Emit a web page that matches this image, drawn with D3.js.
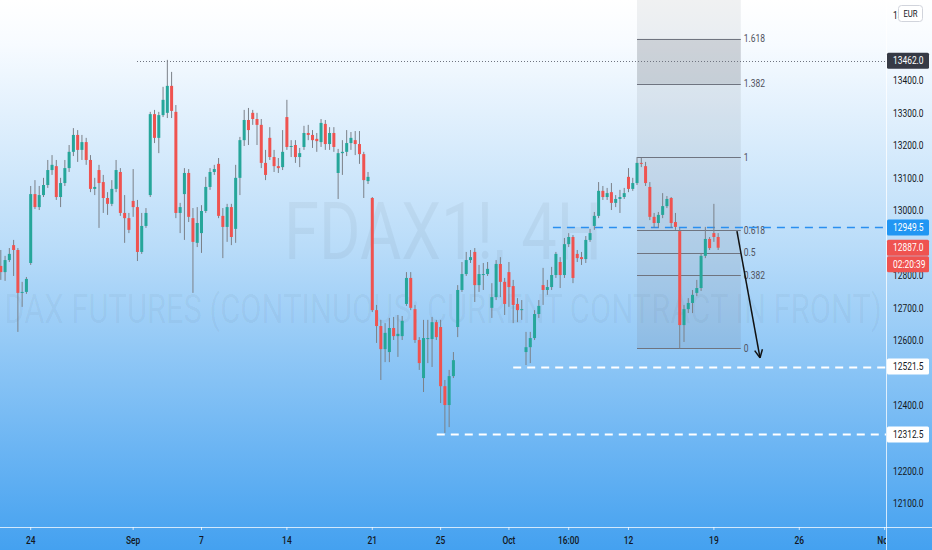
<!DOCTYPE html>
<html><head><meta charset="utf-8">
<script src="https://cdn.jsdelivr.net/npm/d3@7"></script>
<style>html,body{margin:0;padding:0;overflow:hidden;background:#fff}</style>
</head><body><svg id="c" width="932" height="550"></svg>
<script>
// ---------- DATA ----------
const opens = [12831,12812,12849,12895,12880,12748,12751,12840,13052,13012,
13049,13080,13126,13138,13043,13086,13132,13182,13234,13188,
13212,13157,13068,13126,13089,13040,13022,13068,13120,12994,
12978,13031,13012,12874,12954,13049,13298,13225,13295,13302,
13385,13305,12994,13052,13117,12978,12902,12932,13000,13074,
13120,13145,12985,12951,13012,12945,13102,13218,13280,13302,
13283,13265,13148,13225,13166,13138,13135,13289,13197,13203,
13166,13197,13240,13234,13222,13212,13268,13206,13240,13117,
13178,13182,13209,13218,13206,13175,13092,13040,12695,12646,
12575,12566,12640,12615,12615,12714,12794,12698,12603,12486,
12606,12606,12658,12643,12461,12403,12492,12643,12757,12806,
12849,12874,12772,12803,12806,12702,12735,12837,12782,12812,
12769,12714,12695,12566,12581,12609,12683,12772,12757,12766,
12803,12843,12803,12898,12920,12868,12858,12852,12911,12954,
12985,13062,13043,13058,13025,13037,13043,13105,13068,13086,
13148,13138,13074,12982,12963,12988,13015,13040,12966,12938,
12649,12698,12717,12748,12763,12862,12914,12932,12920];
const highs = [12880,12862,12886,12911,12886,12782,12797,13077,13095,13077,
13102,13157,13172,13157,13102,13157,13203,13255,13249,13234,
13225,13172,13102,13142,13111,13058,13095,13157,13132,13049,
12994,13129,13034,12994,13009,13305,13311,13305,13382,13465,
13428,13326,13025,13132,13129,13009,13012,13018,13105,13132,
13142,13163,13009,13022,13022,13142,13228,13311,13317,13311,
13302,13283,13188,13258,13188,13163,13249,13342,13218,13218,
13194,13262,13265,13249,13240,13283,13280,13258,13258,13191,
13218,13249,13243,13246,13246,13182,13120,13043,12711,12665,
12655,12671,12674,12680,12677,12812,12812,12711,12612,12665,
12665,12674,12665,12665,12480,12511,12566,12772,12843,12874,
12880,12886,12834,12840,12843,12778,12849,12858,12794,12843,
12788,12732,12726,12628,12628,12695,12726,12825,12788,12828,
12874,12858,12917,12932,12926,12880,12874,12923,12945,12997,
13089,13077,13071,13086,13049,13065,13071,13132,13102,13166,
13163,13151,13089,12994,12997,13055,13046,13043,12994,12948,
12711,12732,12757,12788,12871,12951,12920,13022,12932];
const lows = [12788,12785,12843,12800,12628,12705,12745,12834,13006,13003,
13043,13071,13111,13034,13012,13077,13120,13169,13151,13157,
13142,13058,13049,12948,12994,12988,13015,13058,12985,12902,
12932,12982,12846,12868,12948,13043,13209,13178,13289,13286,
13286,12978,12932,12911,12966,12748,12889,12871,12994,13065,
13111,12978,12855,12905,12895,12902,13049,13200,13203,13265,
13203,13132,13095,13157,13120,13117,13126,13188,13166,13148,
13135,13188,13218,13194,13182,13197,13188,13188,13182,13037,
13111,13169,13188,13172,13145,13040,13083,12689,12594,12480,
12535,12535,12603,12551,12603,12708,12695,12594,12511,12443,
12532,12520,12603,12409,12317,12335,12486,12612,12751,12800,
12840,12720,12751,12757,12800,12671,12726,12735,12680,12705,
12655,12658,12665,12526,12532,12603,12671,12711,12742,12757,
12794,12763,12794,12889,12778,12843,12834,12840,12905,12942,
12978,13034,13034,13003,13012,12994,13037,13058,13062,13080,
13135,13077,12972,12948,12948,12978,13009,12948,12942,12577,
12597,12686,12686,12738,12754,12855,12880,12905,12880];
const closes = [12812,12849,12868,12880,12748,12751,12791,13052,13012,13049,
13080,13126,13142,13043,13086,13132,13182,13234,13188,13212,
13157,13068,13074,13086,13040,13022,13068,13126,12994,12978,
12942,13012,12874,12954,12994,13298,13225,13295,13342,13385,
13308,12994,13012,13117,12982,12905,12963,13000,13074,13120,
13129,12985,12951,13012,12920,13102,13218,13280,13249,13283,
13265,13148,13111,13166,13138,13132,13182,13197,13200,13166,
13178,13240,13234,13218,13215,13271,13206,13240,13197,13178,
13182,13209,13225,13206,13175,13095,13105,12695,12646,12575,
12625,12640,12615,12622,12662,12794,12702,12603,12532,12609,
12609,12658,12612,12461,12403,12492,12541,12757,12806,12849,
12858,12772,12806,12806,12822,12735,12837,12782,12714,12766,
12711,12695,12698,12581,12609,12683,12708,12757,12766,12803,
12868,12803,12898,12920,12794,12855,12852,12911,12932,12985,
13062,13043,13055,13025,13037,13043,13055,13068,13086,13148,
13145,13086,12982,12963,12988,13015,13037,12963,12951,12649,
12698,12717,12742,12763,12862,12914,12886,12920,12887];

const timeLabels = ["24","Sep","7","14","21","25","Oct","16:00","12","19","26","Nov"];
const timeLabelBars = [7,31,47,67,87,103,119,133,147,167,187,207];
const priceTicks = [12100,12200,12300,12400,12500,12600,12700,12800,12900,13000,13100,13200,13300,13400,13500,13600];
const fibLevels = [0,0.382,0.5,0.618,1,1.382,1.618];
const fibLabels = ["0","0.382","0.5","0.618","1","1.382","1.618"];
const fibLow = 12577, fibHigh = 13166;
const fibBars = [149, 173.3];
const levelPrices = [13462, 12949.5, 12521.5, 12312.5];
const levelStartBars = [31.9, 129.3, 120, 102.1];
const levelStyles = ["dotted","blue","white","white"];
const lastPrice = 12887.0;
const countdown = "02:20:39";
const arrowBars = [172.4, 177.8];
const arrowPrices = [12938, 12548];
const symbolTitle = "FDAX1!, 4H";
const symbolDesc = "DAX FUTURES (CONTINUOUS: CURRENT CONTRACT IN FRONT)";
const currency = "EUR";

// ---------- CHART ----------
const W = 932, H = 550, plotR = 886, plotB = 527;
const FONT = "Roboto, 'Liberation Sans', sans-serif";
const svg = d3.select("#c");
const defs = svg.append("defs");
const g0 = defs.append("linearGradient").attr("id","bg").attr("x1",0).attr("y1",0).attr("x2",0).attr("y2",1);
[[0,"#ffffff"],[0.08,"#f7fbff"],[0.45,"#b9dcf9"],[1,"#44a1f0"]].forEach(s=>g0.append("stop").attr("offset",s[0]).attr("stop-color",s[1]));
defs.append("clipPath").attr("id","plot").append("rect").attr("width",plotR).attr("height",plotB);
defs.append("clipPath").attr("id","xax").append("rect").attr("x",0).attr("y",plotB).attr("width",plotR).attr("height",H-plotB);
defs.append("clipPath").attr("id","cur").append("rect").attr("x",886).attr("y",0).attr("width",12).attr("height",30);

svg.append("rect").attr("width",W).attr("height",H).attr("fill","url(#bg)");

const x = d3.scaleLinear().domain([0,207]).range([0.8, 0.8+207*4.27]);
const y = d3.scaleLinear().domain([12027.7,13649.2]).range([plotB,0]);

function narrow(sel, f){ sel.each(function(){ const w=this.getComputedTextLength(); d3.select(this).attr("textLength", w*f).attr("lengthAdjust","spacingAndGlyphs"); }); }

// watermark (scaled horizontally by transform to the target width)
function watermark(txt, cx, by, size, targetW){
  const g = svg.append("g");
  const t = g.append("text").attr("x",0).attr("y",0).attr("text-anchor","middle")
    .attr("font-family",FONT).attr("font-size",size).attr("fill","rgba(0,0,0,0.045)").text(txt);
  const w = t.node().getComputedTextLength();
  g.attr("transform",`translate(${cx},${by}) scale(${targetW/w},1)`);
}
watermark(symbolTitle, 443, 259, 80, 318);
watermark(symbolDesc, 443, 323, 40, 878);

const plot = svg.append("g").attr("clip-path","url(#plot)");

// fib region
const fx0 = x(fibBars[0]), fx1 = x(fibBars[1]);
const fy = l => y(fibLow + (fibHigh-fibLow)*l);
plot.append("rect").attr("x",fx0).attr("y",0).attr("width",fx1-fx0).attr("height",fy(1.618)).attr("fill","rgba(110,115,125,0.10)");
plot.append("rect").attr("x",fx0).attr("y",fy(1.618)).attr("width",fx1-fx0).attr("height",fy(1.382)-fy(1.618)).attr("fill","rgba(110,115,125,0.30)");
plot.append("rect").attr("x",fx0).attr("y",fy(1.382)).attr("width",fx1-fx0).attr("height",fy(1)-fy(1.382)).attr("fill","rgba(110,115,125,0.12)");
plot.append("rect").attr("x",fx0).attr("y",fy(1)).attr("width",fx1-fx0).attr("height",fy(0)-fy(1)).attr("fill","rgba(110,115,125,0.14)");
fibLevels.forEach((l,k)=>{
  plot.append("line").attr("x1",fx0).attr("x2",fx1).attr("y1",Math.round(fy(l))+0.5).attr("y2",Math.round(fy(l))+0.5)
    .attr("stroke","#6f7480").attr("stroke-width",1);
  const t = plot.append("text").attr("x",fx1+3).attr("y",fy(l)).attr("dominant-baseline","central")
    .attr("font-family",FONT).attr("font-size",10).attr("fill","#50535e").text(fibLabels[k]);
  narrow(t,0.85);
});

// horizontal level lines
levelPrices.forEach((p,k)=>{
  const yy = Math.round(y(p))+0.5;
  const ln = plot.append("line").attr("x1",x(levelStartBars[k])).attr("x2",plotR).attr("y1",yy).attr("y2",yy);
  if(levelStyles[k]==="dotted") ln.attr("stroke","#6f7480").attr("stroke-width",1).attr("stroke-dasharray","1,2");
  else if(levelStyles[k]==="blue") ln.attr("stroke","#2a8ff0").attr("stroke-width",1.6).attr("stroke-dasharray","8,6");
  else ln.attr("stroke","#ffffff").attr("stroke-width",2).attr("stroke-dasharray","8,6");
});

// candles
const bars = opens.map((o,i)=>({i,o,h:highs[i],l:lows[i],c:closes[i]}));
const up = "#26a69a", dn = "#ef5350";
plot.selectAll("line.wick").data(bars).enter().append("line").attr("class","wick")
  .attr("x1",d=>x(d.i)).attr("x2",d=>x(d.i)).attr("y1",d=>y(d.h)).attr("y2",d=>y(d.l))
  .attr("stroke","#7b8088").attr("stroke-width",1);
plot.selectAll("rect.body").data(bars).enter().append("rect").attr("class","body")
  .attr("x",d=>x(d.i)-1.5).attr("width",3)
  .attr("y",d=>y(Math.max(d.o,d.c)))
  .attr("height",d=>Math.max(1,Math.abs(y(d.o)-y(d.c))))
  .attr("fill",d=>d.c>=d.o?up:dn);

// arrow
const ax0=x(arrowBars[0]), ay0=y(arrowPrices[0]), ax1=x(arrowBars[1]), ay1=y(arrowPrices[1]);
plot.append("line").attr("x1",ax0).attr("y1",ay0).attr("x2",ax1).attr("y2",ay1).attr("stroke","#111").attr("stroke-width",1.5);
const ang = Math.atan2(ay1-ay0, ax1-ax0);
[ang+Math.PI-0.45, ang+Math.PI+0.45].forEach(a=>{
  plot.append("line").attr("x1",ax1).attr("y1",ay1).attr("x2",ax1+9*Math.cos(a)).attr("y2",ay1+9*Math.sin(a)).attr("stroke","#111").attr("stroke-width",1.5);
});

// axes lines
svg.append("line").attr("x1",plotR+0.5).attr("x2",plotR+0.5).attr("y1",0).attr("y2",H).attr("stroke","rgba(255,255,255,0.75)");
svg.append("line").attr("x1",0).attr("x2",W).attr("y1",plotB+0.5).attr("y2",plotB+0.5).attr("stroke","rgba(255,255,255,0.75)");

// price labels on axis (ticks hidden under a marker box are skipped)
const boxPrices = [13462,12949.5,12521.5,12312.5,lastPrice];
const yAxisG = svg.append("g");
priceTicks.forEach(p=>{
  if (boxPrices.some(b=>Math.abs(y(b)-y(p))<13)) return;
  const t = yAxisG.append("text").attr("x",893).attr("y",y(p)).attr("dominant-baseline","central")
    .attr("font-family",FONT).attr("font-size",10.5).attr("fill","#131722").text(d3.format(".1f")(p));
  if (p===13600) t.attr("clip-path","url(#cur)");
  narrow(t,0.8);
});
// time axis
const xAxisG = svg.append("g").attr("clip-path","url(#xax)");
timeLabels.forEach((s,k)=>{
  const xx = x(timeLabelBars[k]);
  xAxisG.append("line").attr("x1",xx).attr("x2",xx).attr("y1",plotB).attr("y2",plotB+3).attr("stroke","rgba(255,255,255,0.75)");
  const t = xAxisG.append("text").attr("x",xx).attr("y",540).attr("text-anchor","middle").attr("dominant-baseline","central")
    .attr("font-family",FONT).attr("font-size",10.5).attr("font-weight",500).attr("fill","#131722").text(s);
  narrow(t,0.8);
});

// price marker boxes
function priceBox(yy, txt, bg, fg){
  svg.append("rect").attr("x",887).attr("y",yy-8).attr("width",42).attr("height",16).attr("rx",1.5).attr("fill",bg);
  const t = svg.append("text").attr("x",893).attr("y",yy).attr("dominant-baseline","central")
    .attr("font-family",FONT).attr("font-size",10.5).attr("fill",fg).text(txt);
  narrow(t,0.8);
}
priceBox(y(13462),"13462.0","#363a45","#ffffff");
priceBox(y(12949.5),"12949.5","#2196f3","#ffffff");
priceBox(y(12521.5),"12521.5","#ffffff","#131722");
priceBox(y(12312.5),"12312.5","#ffffff","#131722");
priceBox(y(lastPrice),"12887.0","#ef5350","#ffffff");
priceBox(y(lastPrice)+16.5,countdown,"#ef5350","#ffffff");
// currency box
svg.append("rect").attr("x",898.5).attr("y",5.5).attr("width",24).attr("height",16).attr("rx",3)
  .attr("fill","#ffffff").attr("stroke","#d1d4dc");
const ct = svg.append("text").attr("x",910.5).attr("y",13.5).attr("text-anchor","middle").attr("dominant-baseline","central")
  .attr("font-family",FONT).attr("font-size",9).attr("fill","#131722").text(currency);
narrow(ct,0.85);
</script></body></html>
